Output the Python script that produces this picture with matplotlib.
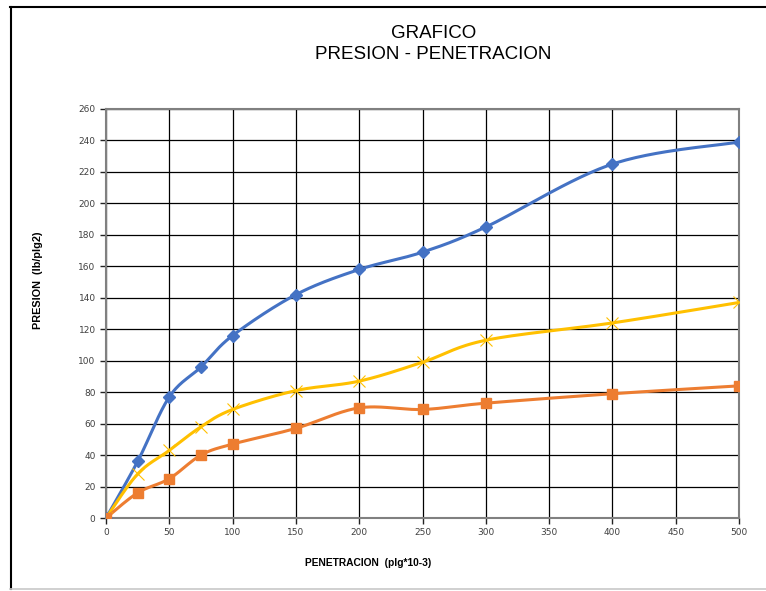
import matplotlib
import matplotlib.pyplot as plt
import numpy as np
from matplotlib.lines import Line2D

matplotlib.use('agg')

# datos
penetracion = [0, 25, 50, 75, 100, 150, 200, 250, 300, 400, 500]
presion_azul = [0, 36, 77, 96, 116, 142, 158, 169, 185, 225, 239]
presion_amarilla = [0, 28, 43, 58, 69, 81, 87, 99, 113, 124, 137]
presion_naranja = [0, 16, 25, 40, 47, 57, 70, 69, 73, 79, 84]


def suavizar(x, y, n=30):
    # curva tipo excel (bezier con tangentes catmull-rom)
    x = np.asarray(x, float)
    y = np.asarray(y, float)
    xs, ys = [], []
    for i in range(len(x) - 1):
        p0 = np.array([x[max(i - 1, 0)], y[max(i - 1, 0)]])
        p1 = np.array([x[i], y[i]])
        p2 = np.array([x[i + 1], y[i + 1]])
        p3 = np.array([x[min(i + 2, len(x) - 1)], y[min(i + 2, len(x) - 1)]])
        c1 = p1 + (p2 - p0) / 6
        c2 = p2 - (p3 - p1) / 6
        t = np.linspace(0, 1, n)[:, None]
        pts = ((1 - t) ** 3) * p1 + 3 * ((1 - t) ** 2) * t * c1 + 3 * (1 - t) * t ** 2 * c2 + t ** 3 * p2
        xs.extend(pts[:, 0])
        ys.extend(pts[:, 1])
    return xs, ys


fig = plt.figure(figsize=(7.66, 5.91), dpi=100)
ax = fig.add_axes([0.1384, 0.1235, 0.8264, 0.6921])

series = [
    (presion_azul, '#4472C4', 'D', 6, 1.0),
    (presion_amarilla, '#FFC000', 'x', 9, 0.8),
    (presion_naranja, '#ED7D31', 's', 7.5, 1.0),
]
for vals, col, mk, ms, mew in series:
    sx, sy = suavizar(penetracion, vals)
    ax.plot(sx, sy, color=col, lw=2.2, zorder=3)
    ax.plot(penetracion, vals, linestyle='none', marker=mk, color=col,
            markersize=ms, markeredgewidth=mew, zorder=4)

ax.set_xlim(0, 500)
ax.set_ylim(0, 260)
ax.set_xticks(np.arange(0, 501, 50))
ax.set_yticks(np.arange(0, 261, 20))
ax.grid(True, color='black', lw=0.9)
ax.set_axisbelow(True)
for s in ax.spines.values():
    s.set_color('#808080')
    s.set_linewidth(1.5)
ax.tick_params(direction='out', length=4, width=1, colors='#222222',
               labelsize=6.5, labelcolor='#404040')

fig.text(0.566, 0.944, 'GRAFICO', ha='center', va='center', fontsize=13.5,
         family='Liberation Sans')
fig.text(0.566, 0.907, 'PRESION - PENETRACION', ha='center', va='center',
         fontsize=13.5, family='Liberation Sans')
fig.text(0.48, 0.047, 'PENETRACION  (plg*10-3)', ha='center', va='center',
         fontsize=7.4, fontweight='bold', family='Liberation Sans')
fig.text(0.05, 0.525, 'PRESION  (lb/plg2)', ha='center', va='center',
         rotation=90, fontsize=7.8, fontweight='bold', family='Liberation Sans')

# marco del grafico: arriba e izquierda negro, abajo gris
fig.lines.append(Line2D([0.013, 1.0], [0.989, 0.989], transform=fig.transFigure,
                        color='black', lw=1.5))
fig.lines.append(Line2D([0.014, 0.014], [0.003, 0.989], transform=fig.transFigure,
                        color='black', lw=1.5))
fig.lines.append(Line2D([0.013, 1.0], [0.004, 0.004], transform=fig.transFigure,
                        color='#c8c8c8', lw=1.2))

fig.savefig('out.png', dpi=100)
plt.close(fig)
